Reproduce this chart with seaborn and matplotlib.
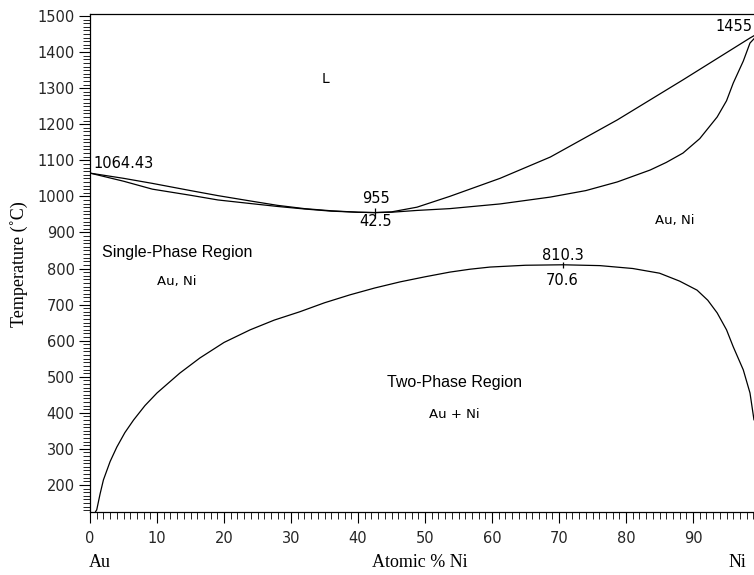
import numpy as np
import pandas as pd
import matplotlib
matplotlib.use("Agg")
import matplotlib.pyplot as plt
import seaborn as sns
from matplotlib.ticker import MultipleLocator

# liquidus (upper boundary of the two-phase band)
liq_x = [0, 5, 9.3, 15, 19.1, 24, 28, 32, 36, 40, 42.5, 45, 48.8, 53.7, 61.2, 68.7, 78.7, 88.5, 98.5, 100]
liq_t = [1064.43, 1050, 1036, 1016, 1002, 987, 975, 966, 960, 956, 955, 957, 970, 1000, 1050, 1109, 1212, 1323, 1439, 1455]

# solidus (lower boundary)
sol_x = [0, 5, 9.3, 15, 19.1, 24, 28, 32, 36, 40, 42.5, 45, 48.8, 53.7, 61.2, 68.7, 74, 78.7, 83.6,
         86, 88.5, 91, 93.6, 95, 96, 97.5, 98.5, 100]
sol_t = [1064.43, 1042, 1020, 1003, 990, 980, 972, 965, 959, 956, 955, 956, 961, 966, 979, 998, 1016, 1040, 1073,
         1094, 1120, 1160, 1220, 1265, 1314, 1375, 1425, 1455]

# miscibility gap
gap_x = [0.8, 1.0, 1.5, 2.0, 3.0, 4.0, 5.2, 6.5, 8.2, 10, 13.4, 16.4, 20, 23.9, 27.5, 31.3, 35, 38.8, 42.5,
         46.3, 50, 53.7, 56.7, 59.7, 65, 70.6, 76.1, 81, 85, 88, 90.6, 92.2, 93.6, 95, 96, 97.5, 98.5, 99.1]
gap_t = [125, 131, 175, 214, 265, 305, 345, 380, 420, 455, 510, 552, 595, 630, 657, 680, 705, 727, 746,
         763, 777, 790, 798, 804, 809, 810.3, 808, 800, 787, 765, 740, 712, 677, 630, 583, 519, 455, 380]

sns.set_style("ticks")
plt.rcParams['font.family'] = ['DejaVu Sans']

fig = plt.figure(figsize=(7.54, 5.75), dpi=100)
ax = fig.add_axes([0.1194, 0.1096, 0.8886, 0.8657])

for xs, ts in [(liq_x, liq_t), (sol_x, sol_t), (gap_x, gap_t)]:
    df = pd.DataFrame({'x': xs, 't': ts})
    sns.lineplot(data=df, x='x', y='t', ax=ax, sort=False, estimator=None,
                 color='black', linewidth=0.9)

# small markers at the special points
ax.plot([42.5], [955], marker='|', color='black', markersize=7, markeredgewidth=0.9)
ax.plot([70.6], [810.3], marker='|', color='black', markersize=5, markeredgewidth=0.9)

ax.set_xlim(0, 100)
ax.set_ylim(125, 1505)
ax.set_xlabel('')
ax.set_ylabel('')

ax.xaxis.set_major_locator(MultipleLocator(10))
ax.xaxis.set_minor_locator(MultipleLocator(1))
ax.yaxis.set_major_locator(MultipleLocator(100))
ax.yaxis.set_minor_locator(MultipleLocator(10))
ax.set_yticks(range(200, 1501, 100))
ax.set_xticks(range(0, 100, 10))

ax.tick_params(which='major', direction='out', length=8, width=0.8, labelsize=10.5, color='black')
ax.tick_params(which='minor', direction='out', length=5, width=0.6, color='black')
ax.tick_params(axis='x', which='major', pad=6)
ax.tick_params(axis='y', which='major', pad=3)

for side in ['left', 'bottom', 'top', 'right']:
    ax.spines[side].set_visible(True)
    ax.spines[side].set_linewidth(0.9)
    ax.spines[side].set_color('black')

num_font = dict(fontsize=10.5, family='DejaVu Sans', color='black')
ax.text(0.45, 1092, '1064.43', ha='left', va='center', **num_font)
ax.text(42.7, 993, '955', ha='center', va='center', **num_font)
ax.text(42.7, 930, '42.5', ha='center', va='center', **num_font)
ax.text(70.5, 837, '810.3', ha='center', va='center', **num_font)
ax.text(70.5, 768, '70.6', ha='center', va='center', **num_font)
ax.text(93.3, 1472, '1455', ha='left', va='center', clip_on=False, **num_font)

small = dict(fontsize=9.5, family='DejaVu Sans', color='black')
ax.text(35.2, 1325, 'L', ha='center', va='center', fontsize=10, family='DejaVu Sans', color='black')
ax.text(13.0, 765, 'Au, Ni', ha='center', va='center', **small)
ax.text(87.3, 934, 'Au, Ni', ha='center', va='center', **small)
ax.text(54.3, 394, 'Au + Ni', ha='center', va='center', **small)

region = dict(fontsize=11.5, family='Liberation Sans', color='black')
ax.text(1.8, 843, 'Single-Phase Region', ha='left', va='center', **region)
ax.text(44.3, 485, 'Two-Phase Region', ha='left', va='center', **region)

serif = dict(fontsize=13, family='Liberation Serif', color='black')
fig.text(19 / 754, 0.541, 'Temperature (˚C)', rotation=90, ha='center', va='center', **serif)
fig.text(100 / 754, 0.021, 'Au', ha='center', va='center', **serif)
fig.text(420 / 754, 0.021, 'Atomic % Ni', ha='center', va='center', **serif)
fig.text(737 / 754, 0.021, 'Ni', ha='center', va='center', **serif)

fig.savefig('out.png', dpi=100)
